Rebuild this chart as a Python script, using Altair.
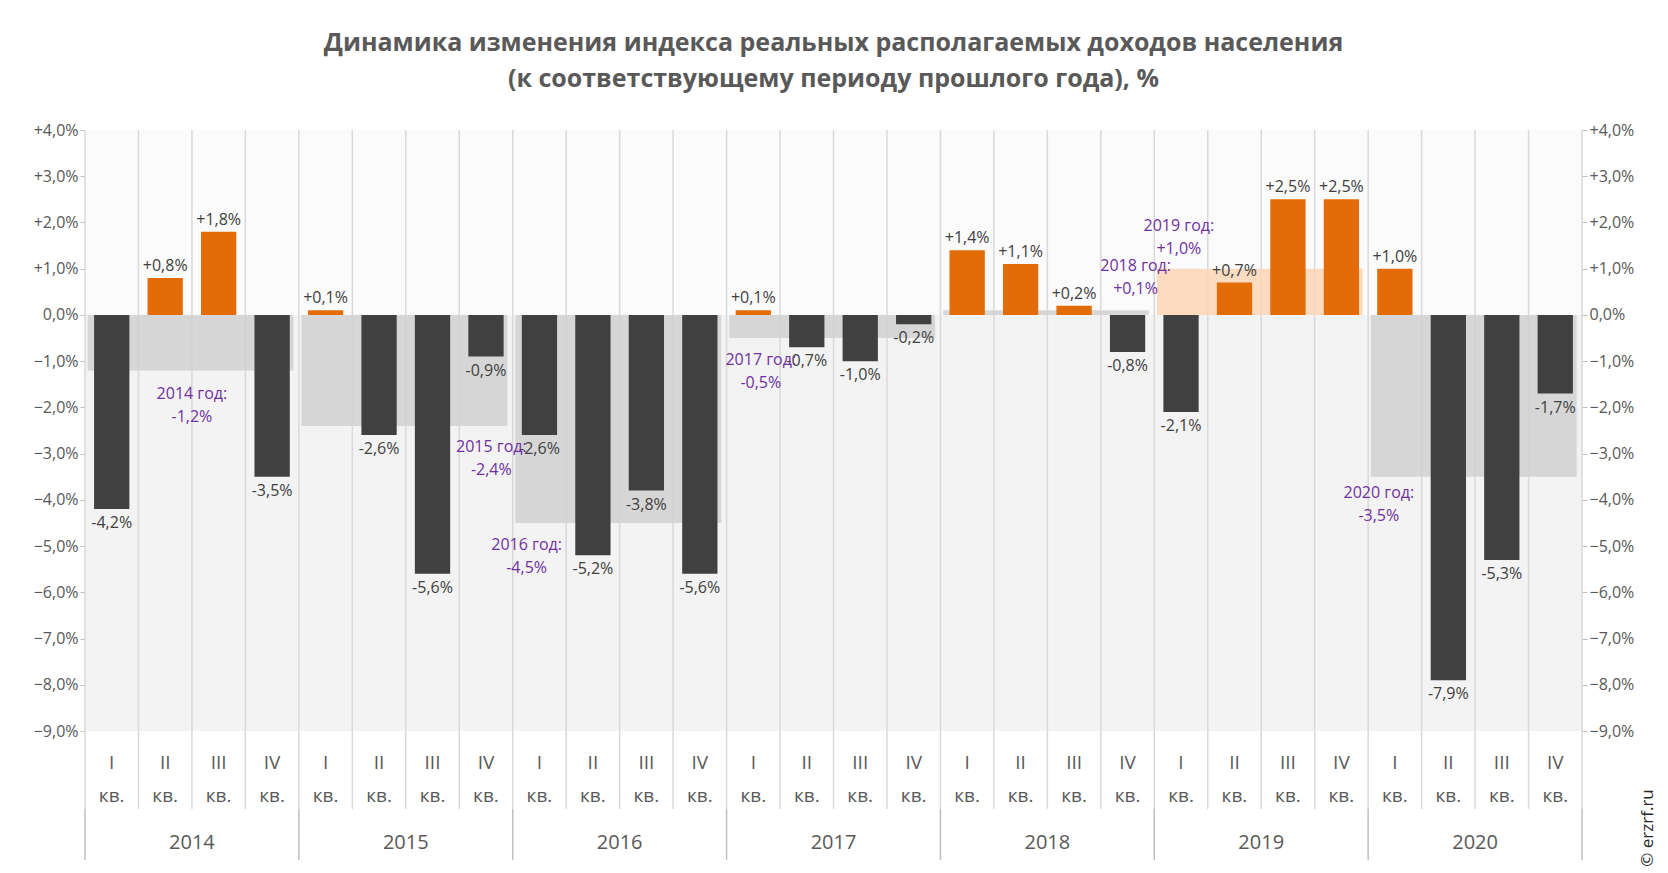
import altair as alt
import pandas as pd

YEARS = [2014, 2015, 2016, 2017, 2018, 2019, 2020]
QUARTERS = ["I", "II", "III", "IV"]
QUARTER_VALUES = [
    -4.2, 0.8, 1.8, -3.5,
    0.1, -2.6, -5.6, -0.9,
    -2.6, -5.2, -3.8, -5.6,
    0.1, -0.7, -1.0, -0.2,
    1.4, 1.1, 0.2, -0.8,
    -2.1, 0.7, 2.5, 2.5,
    1.0, -7.9, -5.3, -1.7,
]
YEAR_VALUES = [-1.2, -2.4, -4.5, -0.5, 0.1, 1.0, -3.5]
# where the purple annual notes sit (quarter index, value)
NOTE_X = [2.0, 7.6, 8.26, 12.64, 19.65, 20.46, 24.2]
NOTE_Y = [-1.7, -2.86, -4.97, -0.97, 1.05, 1.93, -3.85]

W, H = 1497, 601
DARK, ORANGE, PURPLE, GREY = "#404040", "#e36c09", "#7030a0", "#595959"
FONT = "Open Sans"


def fmt(v):
    return f"{v:+.1f}%".replace(".", ",")


q = pd.DataFrame({
    "i": range(28),
    "v": QUARTER_VALUES,
})
q["x"] = q["i"] + 0.17
q["x2"] = q["i"] + 0.83
q["xc"] = q["i"] + 0.5
q["lab"] = [fmt(v) for v in QUARTER_VALUES]
q["roman"] = [QUARTERS[i % 4] for i in range(28)]
q["col"] = [ORANGE if v > 0 else DARK for v in QUARTER_VALUES]

y = pd.DataFrame({"year": [str(v) for v in YEARS], "v": YEAR_VALUES})
y["x"] = [4 * k + 0.05 for k in range(7)]
y["x2"] = [4 * k + 3.9 for k in range(7)]
y["xc"] = [4 * k + 2 for k in range(7)]
y["col"] = ["#fbd5b5" if v >= 0.5 else "#d0d0d0" for v in YEAR_VALUES]
y["n1"] = [f"{k} год:" for k in YEARS]
y["n2"] = [fmt(v) for v in YEAR_VALUES]
y["nx"] = NOTE_X
y["ny"] = NOTE_Y

xs = alt.Scale(domain=[0, 28], nice=False, zero=False)
ys = alt.Scale(domain=[-9, 4], nice=False)
X = alt.X("x:Q", scale=xs, axis=None)
lab_expr = ("(datum.value > 0 ? '+' : '') + replace(format(datum.value, '.1f'), '.', ',') + '%'")


def Y(field):
    return alt.Y(field, scale=ys, axis=None)


def XX(field):
    return alt.X(field, scale=xs, axis=None)


bg = pd.DataFrame({"a": [0, -9], "b": [4, 0], "c": ["#fbfbfb", "#f3f3f3"]})
axis_style = dict(values=list(range(-9, 5)), labelExpr=lab_expr, title=None,
                  grid=False, domain=False, ticks=True, tickColor="#bfbfbf",
                  labelColor=GREY, labelFontSize=16, labelFont=FONT)
back = alt.Chart(bg).mark_rect().encode(
    x=alt.value(0), x2=alt.value(W),
    y=alt.Y("a:Q", scale=ys, axis=alt.Axis(orient="left", **axis_style)),
    y2="b:Q", color=alt.Color("c:N", scale=None),
)
right_axis = alt.Chart(bg).mark_rect(opacity=0).encode(
    x=alt.value(0), x2=alt.value(W),
    y=alt.Y("a:Q", scale=ys, axis=alt.Axis(orient="right", **axis_style)),
    y2="b:Q",
)

grid = pd.DataFrame({"g": list(range(29))})
grid["major"] = grid["g"] % 4 == 0
vlines = alt.Chart(grid).mark_rule(color="#d9d9d9", strokeWidth=1.5).encode(
    x=XX("g:Q"), y=alt.value(0), y2=alt.value(H))
qsep = alt.Chart(grid).mark_rule(color="#d9d9d9", strokeWidth=1.5).encode(
    x=XX("g:Q"), y=alt.value(H), y2=alt.value(H + 78))
ysep = alt.Chart(grid[grid["major"]]).mark_rule(color="#bfbfbf", strokeWidth=1.5).encode(
    x=XX("g:Q"), y=alt.value(H + 78), y2=alt.value(H + 129))

ybars = alt.Chart(y).mark_rect(opacity=0.85).encode(
    x=X, x2="x2:Q", y=Y("v:Q"), y2=alt.datum(0),
    color=alt.Color("col:N", scale=None))

qbars = alt.Chart(q).mark_rect().encode(
    x=X, x2="x2:Q", y=Y("v:Q"), y2=alt.datum(0),
    color=alt.Color("col:N", scale=None))

txt = dict(font=FONT, fontSize=16, color=DARK)
pos_lab = alt.Chart(q[q["v"] > 0]).mark_text(baseline="bottom", dy=-4, **txt).encode(
    x=XX("xc:Q"), y=Y("v:Q"), text="lab:N")
neg_lab = alt.Chart(q[q["v"] <= 0]).mark_text(baseline="top", dy=6, **txt).encode(
    x=XX("xc:Q"), y=Y("v:Q"), text="lab:N")

ntxt = dict(font=FONT, fontSize=16, color=PURPLE)
note1 = alt.Chart(y).mark_text(baseline="middle", **ntxt).encode(
    x=XX("nx:Q"), y=Y("ny:Q"), text="n1:N")
note2 = alt.Chart(y).mark_text(baseline="middle", dy=23, **ntxt).encode(
    x=XX("nx:Q"), y=Y("ny:Q"), text="n2:N")

btxt = dict(font=FONT, fontSize=19, color=GREY)
roman = alt.Chart(q).mark_text(**btxt).encode(
    x=XX("xc:Q"), y=alt.value(H + 32), text="roman:N")
kv = alt.Chart(q).mark_text(**btxt).encode(
    x=XX("xc:Q"), y=alt.value(H + 65), text=alt.value("кв."))
yr = alt.Chart(y).mark_text(font=FONT, fontSize=20, color=GREY).encode(
    x=XX("xc:Q"), y=alt.value(H + 112), text="year:N")

copy = alt.Chart(y.head(1)).mark_text(font=FONT, fontSize=17, color="#262626", angle=270).encode(
    x=alt.value(W + 66), y=alt.value(H + 97), text=alt.value("© erzrf.ru"))

chart = alt.layer(
    back, right_axis, vlines, qsep, ysep, ybars, qbars, pos_lab, neg_lab,
    note1, note2, roman, kv, yr, copy,
).resolve_scale(y="shared").properties(
    width=W, height=H,
    padding={"left": 77, "top": 122, "right": 78, "bottom": 140},
    autosize=alt.AutoSizeParams(type="none"),
    title=alt.TitleParams(
        ["Динамика изменения индекса реальных располагаемых доходов населения",
         "(к соответствующему  периоду прошлого года), %"],
        fontSize=25, font=FONT, color=GREY, fontWeight="bold", anchor="middle",
        offset=30, lineHeight=36),
).configure_view(stroke=None)

chart.save("out.html", embed_options={"renderer": "svg", "actions": False})
